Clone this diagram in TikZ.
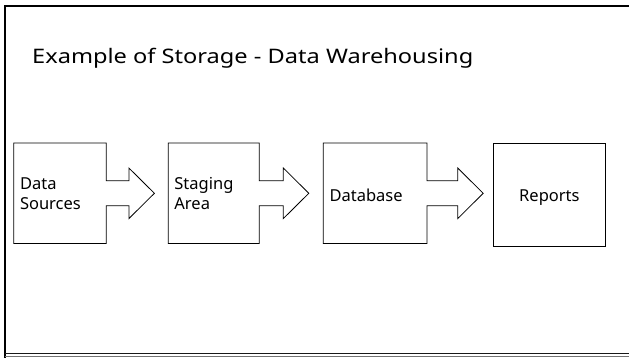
\documentclass[tikz,border=0pt]{standalone}
\usepackage{fontspec}
\setmainfont{Noto Sans}
\newfontfamily\titlefont[FakeStretch=1.18]{Noto Sans}
\usetikzlibrary{positioning,calc}

\tikzset{
  stagebox/.style={rectangle, minimum height=100pt, inner xsep=6pt, inner ysep=0pt,
    align=left, font=\fontsize{16.5}{20}\selectfont},
  outline/.style={line width=0.8pt, black},
  frame/.style={line width=2pt, black}
}

\begin{document}
\begin{tikzpicture}[x=1pt, y=-1pt]
    \useasboundingbox (0,0) rectangle (629,358);
    \clip (0,0) rectangle (629,358);

    % slide frame
    \draw[frame] (5.3,360) -- (5.3,5.8) -- (640,5.8);
    \draw[line width=1pt, black!90] (5.3,353.2) -- (640,353.2);
    \draw[line width=1pt, black!55] (5.3,356.2) -- (640,356.2);

    % title
    \node[anchor=base west, inner sep=0pt, font=\titlefont\fontsize{20}{24}\selectfont]
        (title) at (32,64) {Example of Storage - Data Warehousing};

    % stages
    \node[stagebox, text width=80pt] (src) at (60,193.3) {Data\\Sources};
    \node[stagebox, text width=78.7pt, right=62pt of src] (stage) {Staging\\Area};
    \node[stagebox, text width=91.3pt, text height=17pt, text depth=0pt,
          right=64pt of stage] (db) {Database};
    \node[stagebox, draw, outline, align=center, text width=99.4pt, minimum height=103.4pt,
          text height=13.4pt, text depth=0pt, right=66.3pt of db, yshift=-1.7pt] (rep) {Reports};

    % boxes with arrow callouts
    \foreach \b/\s in {src/22.7, stage/24, db/30.7} {
        \draw[outline, line join=miter] (\b.north west) -- (\b.north east)
            -- ($(\b.east)+(0,-12.5)$) -- ($(\b.east)+(\s,-12.5)$)
            -- ($(\b.east)+(\s,-25.3)$) -- ($(\b.east)+(\s+25.5,0)$)
            -- ($(\b.east)+(\s,25.3)$) -- ($(\b.east)+(\s,12.5)$)
            -- ($(\b.east)+(0,12.5)$) -- (\b.south east) -- (\b.south west) -- cycle;
    }
\end{tikzpicture}
\end{document}
